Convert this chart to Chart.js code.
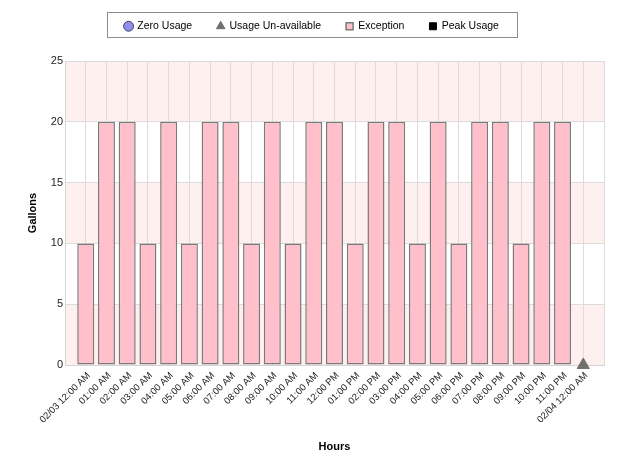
<!DOCTYPE html>
<html>
<head>
<meta charset="utf-8">
<script src="https://cdn.jsdelivr.net/npm/chart.js@4/dist/chart.umd.min.js"></script>
<style>
  html, body { margin: 0; padding: 0; background: #fff; }
  #chart { display: block; }
</style>
</head>
<body>
<canvas id="chart" width="624" height="473"></canvas>
<script>
const hourLabels = [
  '02/03 12:00 AM', '01:00 AM', '02:00 AM', '03:00 AM', '04:00 AM', '05:00 AM',
  '06:00 AM', '07:00 AM', '08:00 AM', '09:00 AM', '10:00 AM', '11:00 AM',
  '12:00 PM', '01:00 PM', '02:00 PM', '03:00 PM', '04:00 PM', '05:00 PM',
  '06:00 PM', '07:00 PM', '08:00 PM', '09:00 PM', '10:00 PM', '11:00 PM',
  '02/04 12:00 AM'
];
const exceptionGallons = [10, 20, 20, 10, 20, 10, 20, 20, 10, 20, 10, 20, 20, 10, 20, 20, 10, 20, 10, 20, 20, 10, 20, 20, null];
const unavailableHours = ['02/04 12:00 AM'];
const zeroUsageHours = [];
const peakUsageHours = [];
const yMax = 25;
const yStep = 5;

const font = 'Liberation Sans, Arial, sans-serif';

function points(hours, value) {
  return hours.map((h) => ({ x: hourLabels.indexOf(h), y: value }));
}

// alternating pink bands behind the grid
const bands = {
  id: 'bands',
  beforeDraw(chart) {
    const { ctx, chartArea } = chart;
    const y = chart.scales.y;
    ctx.save();
    ctx.fillStyle = '#fff0f0';
    for (let v = 0; v < yMax; v += yStep * 2) {
      const top = y.getPixelForValue(Math.min(v + yStep, yMax));
      const bottom = y.getPixelForValue(v);
      ctx.fillRect(chartArea.left, top, chartArea.right - chartArea.left, bottom - top);
    }
    ctx.restore();
  }
};

const legendFrame = {
  id: 'legendFrame',
  beforeInit(chart) {
    const fit = chart.legend.fit;
    chart.legend.fit = function () {
      fit.bind(chart.legend)();
      this.height = 65;
    };
  },
  afterDraw(chart) {
    const boxes = chart.legend.legendHitBoxes;
    if (!boxes || !boxes.length) return;
    const left = Math.min(...boxes.map((b) => b.left)) - 18;
    const right = Math.max(...boxes.map((b) => b.left + b.width)) + 18;
    const { ctx } = chart;
    ctx.save();
    ctx.strokeStyle = '#8c8c8c';
    ctx.lineWidth = 1;
    ctx.strokeRect(Math.round(left) + 0.5, 12.5, Math.round(right - left), 25);
    ctx.restore();
  }
};

new Chart(document.getElementById('chart'), {
  type: 'bar',
  data: {
    datasets: [
      {
        type: 'scatter',
        label: 'Zero Usage',
        data: points(zeroUsageHours, 0),
        pointStyle: 'circle',
        backgroundColor: '#8f8ff0',
        borderColor: '#404060',
        borderWidth: 1
      },
      {
        type: 'scatter',
        label: 'Usage Un-available',
        data: points(unavailableHours, 0),
        pointStyle: 'triangle',
        pointRadius: 7,
        backgroundColor: '#707070',
        borderColor: '#707070',
        borderWidth: 1,
        clip: false
      },
      {
        label: 'Exception',
        data: exceptionGallons
          .map((v, i) => ({ x: i, y: v }))
          .filter((p) => p.y !== null),
        pointStyle: 'rect',
        backgroundColor: '#ffc0cb',
        borderColor: '#7a7a7a',
        borderWidth: 1.5,
        borderSkipped: false,
        barPercentage: 0.82,
        categoryPercentage: 1
      },
      {
        type: 'scatter',
        label: 'Peak Usage',
        data: points(peakUsageHours, 0),
        pointStyle: 'rect',
        backgroundColor: '#000000',
        borderColor: '#000000',
        borderWidth: 1
      }
    ]
  },
  options: {
    responsive: false,
    animation: false,
    devicePixelRatio: 1,
    layout: { padding: { left: 0, right: 0, top: -4, bottom: 0 } },
    plugins: {
      tooltip: { enabled: false },
      legend: {
        position: 'top',
        labels: {
          usePointStyle: true,
          boxWidth: 7,
          boxHeight: 7,
          padding: 25,
          color: '#000',
          font: { family: font, size: 10.5 }
        }
      }
    },
    scales: {
      x: {
        type: 'linear',
        min: -1,
        max: hourLabels.length,
        offset: false,
        grid: { color: '#dcdcdc', drawTicks: false, offset: false },
        border: { color: '#d4d4d4' },
        ticks: {
          stepSize: 1,
          autoSkip: false,
          minRotation: 45,
          maxRotation: 45,
          padding: 5,
          labelOffset: 3,
          color: '#222',
          font: { family: font, size: 9.5 },
          callback: (v) => hourLabels[v] || ''
        },
        title: {
          display: true,
          text: 'Hours',
          color: '#000',
          padding: { top: 0, bottom: 19 },
          font: { family: font, size: 11, weight: 'bold' }
        },
        afterFit(scale) {
          scale.height = 108;
          scale.paddingLeft = 0;
          scale.paddingRight = 20;
        }
      },
      y: {
        min: 0,
        max: yMax,
        grid: { color: '#dcdcdc', drawTicks: false },
        border: { color: '#d4d4d4' },
        ticks: {
          stepSize: yStep,
          padding: 2,
          color: '#222',
          font: { family: font, size: 11 }
        },
        title: {
          display: true,
          text: 'Gallons',
          color: '#000',
          padding: { top: 26, bottom: 0 },
          font: { family: font, size: 11, weight: 'bold' }
        },
        afterFit(scale) {
          scale.width = 65;
        }
      }
    }
  },
  plugins: [bands, legendFrame]
});
</script>
</body>
</html>
